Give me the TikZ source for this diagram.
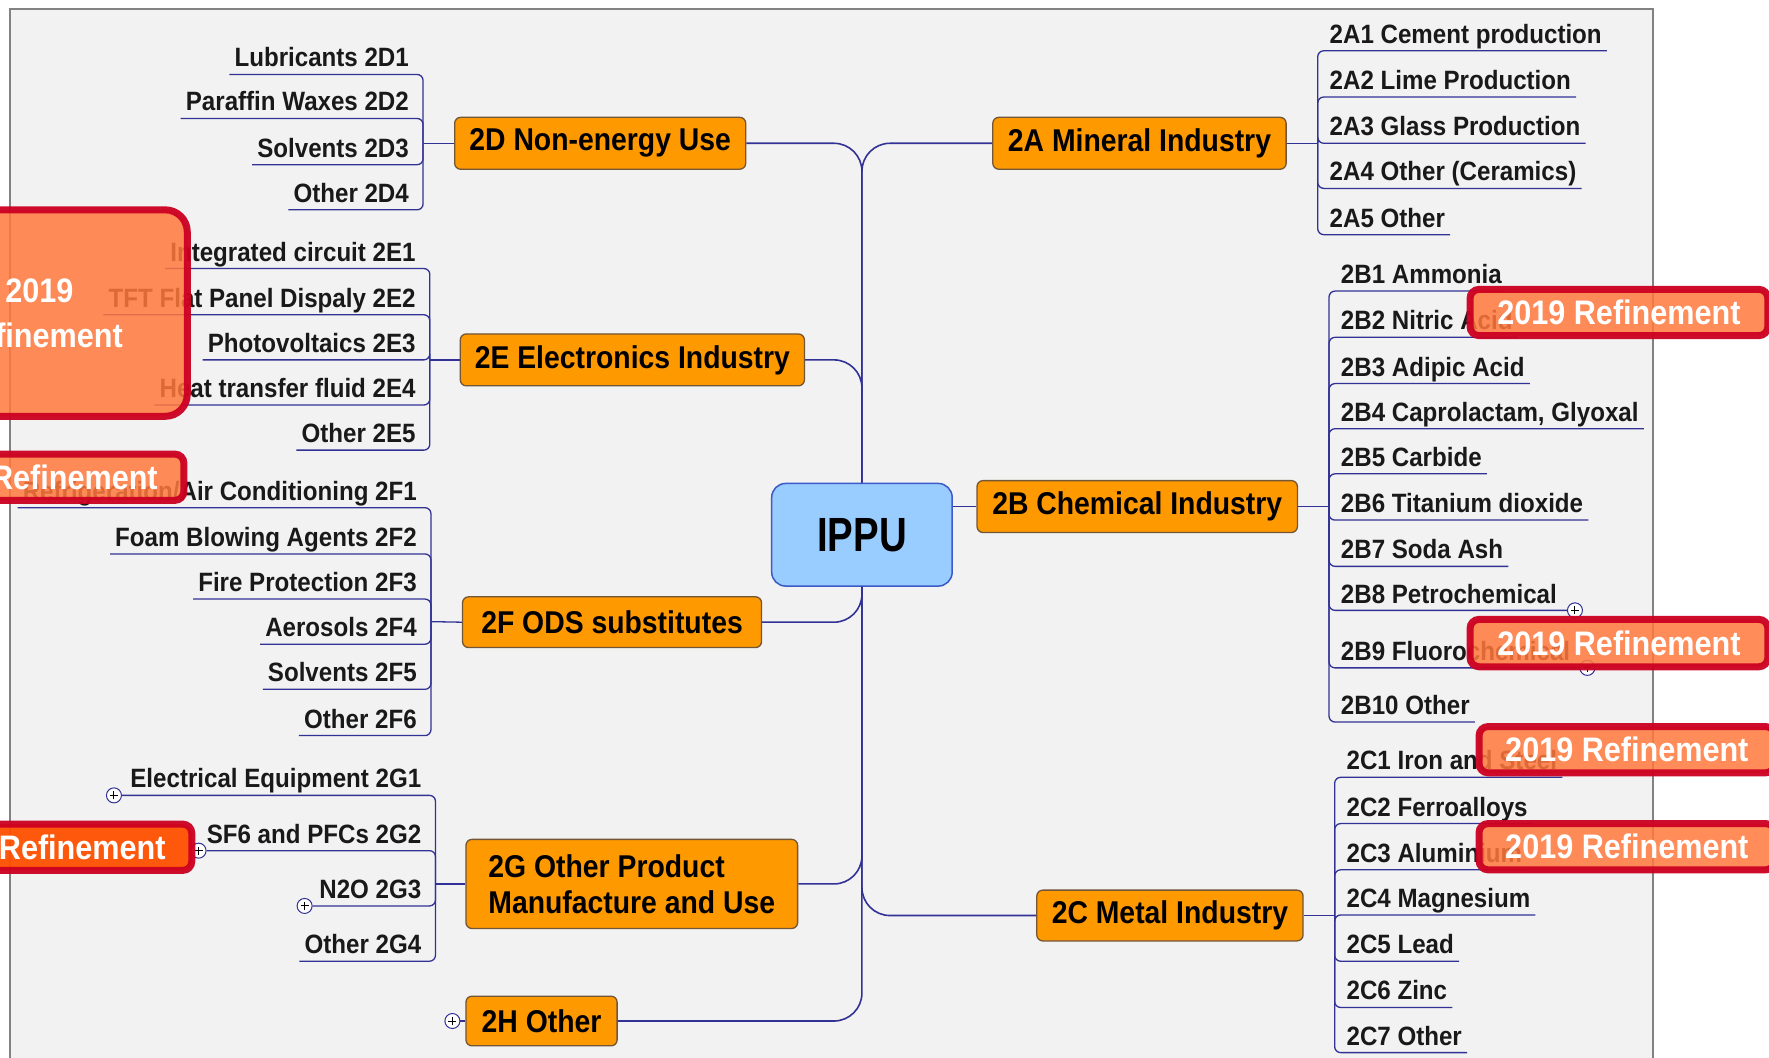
\documentclass[tikz,border=0pt]{standalone}
\usepackage{fontspec}
\newfontfamily\leaffont{Liberation Sans}[FakeStretch=0.91]
\newfontfamily\catfont{Liberation Sans}[FakeStretch=0.9]
\newfontfamily\ippufont{Liberation Sans}[FakeStretch=0.8]
\definecolor{linec}{RGB}{50,50,150}
\definecolor{catfill}{RGB}{255,153,0}
\definecolor{catborder}{RGB}{115,85,55}
\definecolor{ippufill}{RGB}{153,204,255}
\definecolor{ippuborder}{RGB}{60,90,200}
\definecolor{refred}{RGB}{204,0,34}
\definecolor{refor}{RGB}{255,120,60}
\definecolor{refortwo}{RGB}{255,80,0}
\definecolor{framefill}{RGB}{242,242,242}
\definecolor{framec}{RGB}{130,130,130}
\newcommand\catnode[6]{\node[cat, minimum width={(#4-#2)*1.128pt}, minimum height={(#5-#3)*1.128pt}] (#1) at ({(#2+#4)/2},{(#3+#5)/2}) {#6};}
\begin{document}
\begin{tikzpicture}[x=1.128pt,y=-1.128pt,
  cat/.style={draw=catborder, line width=1.3pt, fill=catfill, rounded corners=6pt, inner sep=0pt, text=black, font=\catfont\bfseries\fontsize{31.5}{36}\selectfont},
  ippu/.style={draw=ippuborder, line width=1.5pt, fill=ippufill, rounded corners=14pt, inner sep=0pt, text=black, font=\ippufont\bfseries\fontsize{48}{52}\selectfont},
  leafL/.style={anchor=south east, inner xsep=5pt, inner ysep=0pt, text height=19pt, text depth=7.3pt, text=black!90, font=\leaffont\bfseries\fontsize{26.5}{30}\selectfont},
  leafR/.style={leafL, anchor=south west},
  ul/.style={draw=linec, line width=1.3pt, rounded corners=6pt},
  conn/.style={draw=linec, line width=1.6pt, rounded corners=28pt},
  plus/.style={circle, draw=linec, line width=1pt, fill=white, minimum size=15pt, inner sep=0pt,
    path picture={\draw[black, line width=1pt] ([xshift=-4pt]path picture bounding box.center) -- ([xshift=4pt]path picture bounding box.center) ([yshift=-4pt]path picture bounding box.center) -- ([yshift=4pt]path picture bounding box.center);}},
  refine/.style={draw=refred, line width=7pt, fill=refor, fill opacity=0.85, draw opacity=0.95, text opacity=1, text=white, rounded corners=9pt, inner sep=0pt, align=center, font=\catfont\bfseries\fontsize{34}{45}\selectfont}
]
\useasboundingbox (0,0) rectangle (1568,937);
\clip (0,0) rectangle (1568,937);
\fill[white] (0,0) rectangle (1568,937);
\draw[draw=framec, line width=1.5pt, fill=framefill] (9,8) rectangle (1465,960);

% category nodes
\catnode{catD}{403}{104}{661}{150}{2D Non-energy Use}
\catnode{catA}{880}{104}{1140}{150}{2A Mineral Industry}
\catnode{catE}{408}{296}{713}{342}{2E Electronics Industry}
\catnode{catB}{866}{426}{1150}{472}{2B Chemical Industry}
\catnode{catF}{410}{529}{675}{574}{2F ODS substitutes}
\node[cat, align=left, minimum width={294*1.128pt}, minimum height={79*1.128pt}] (catG) at (560,783.5) {2G Other Product\\Manufacture and Use};
\catnode{catC}{919}{789}{1155}{834}{2C Metal Industry}
\catnode{catH}{413}{883}{547}{927}{2H Other}
\node[ippu, minimum width={160*1.128pt}, minimum height={91*1.128pt}] (ippu) at (764,474) {IPPU};

% trunk connectors
\draw[conn] (catD.east) -| (ippu.north);
\draw[conn] (catA.west) -| (ippu.north);
\draw[conn] (catE.east) -| (ippu.north);
\draw[conn] (catB.west) -- (catB.west -| ippu.east);
\draw[conn] (catF.east) -| (ippu.south);
\draw[conn] (catG.east) -| (ippu.south);
\draw[conn] (catH.east) -| (ippu.south);
\draw[conn] (catC.west) -| (ippu.south);

% bracket points
\coordinate (bD) at (375,127);
\coordinate (bE) at (381,319);
\coordinate (bF) at (382,551);
\coordinate (bG) at (386,783.5);
\coordinate (bA) at (1168,127);
\coordinate (bB) at (1178,449);
\coordinate (bC) at (1183,811.5);

% 2D leaves
\node[leafL] (d1) at (367,66) {Lubricants 2D1};
\node[leafL] (d2) at (367,105) {Paraffin Waxes 2D2};
\node[leafL] (d3) at (367,146) {Solvents 2D3};
\node[leafL] (d4) at (367,186) {Other 2D4};
\foreach \n in {d1,d2,d3,d4} \draw[ul] (\n.south west) -| (bD);
\draw[ul] (bD) -- (catD.west);

% 2E leaves
\node[leafL] (e1) at (373,238) {Integrated circuit 2E1};
\node[leafL] (e2) at (373,279) {TFT Flat Panel Dispaly 2E2};
\node[leafL] (e3) at (373,319) {Photovoltaics 2E3};
\node[leafL] (e4) at (373,359) {Heat transfer fluid 2E4};
\node[leafL] (e5) at (373,399) {Other 2E5};
\foreach \n in {e1,e2,e3,e4,e5} \draw[ul] (\n.south west) -| (bE);
\draw[ul] (bE) -- (catE.west);

% 2F leaves
\node[leafL] (f1) at (374,450) {Refrigeration/Air Conditioning 2F1};
\node[leafL] (f2) at (374,491) {Foam Blowing Agents 2F2};
\node[leafL] (f3) at (374,531) {Fire Protection 2F3};
\node[leafL] (f4) at (374,571) {Aerosols 2F4};
\node[leafL] (f5) at (374,611) {Solvents 2F5};
\node[leafL] (f6) at (374,652) {Other 2F6};
\foreach \n in {f1,f2,f3,f4,f5,f6} \draw[ul] (\n.south west) -| (bF);
\draw[ul] (bF) -- (catF.west);

% 2G leaves
\node[leafL] (g1) at (378,705) {Electrical Equipment 2G1};
\node[leafL] (g2) at (378,754) {SF6 and PFCs 2G2};
\node[leafL] (g3) at (378,803) {N2O 2G3};
\node[leafL] (g4) at (378,852) {Other 2G4};
\node[plus] (pg1) at (101,705) {};
\node[plus] (pg2) at (176,754) {};
\node[plus] (pg3) at (270,803) {};
\draw[ul] (pg1.east) -| (bG);
\draw[ul] (pg2.east) -| (bG);
\draw[ul] (pg3.east) -| (bG);
\draw[ul] (g4.south west) -| (bG);
\draw[ul] (bG) -- (catG.west);

% 2H
\node[plus] (ph) at (401,905) {};
\draw[ul] (ph.east) -- (catH.west);

% 2A leaves
\node[leafR] (a1) at (1174,45) {2A1 Cement production};
\node[leafR] (a2) at (1174,86) {2A2 Lime Production};
\node[leafR] (a3) at (1174,127) {2A3 Glass Production};
\node[leafR] (a4) at (1174,167) {2A4 Other (Ceramics)};
\node[leafR] (a5) at (1174,208) {2A5 Other};
\foreach \n in {a1,a2,a3,a4,a5} \draw[ul] (\n.south east) -| (bA);
\draw[ul] (catA.east) -- (bA);

% 2B leaves
\node[leafR] (b1) at (1184,258) {2B1 Ammonia};
\node[leafR] (b2) at (1184,299) {2B2 Nitric Acid};
\node[leafR] (b3) at (1184,340) {2B3 Adipic Acid};
\node[leafR] (b4) at (1184,380) {2B4 Caprolactam, Glyoxal};
\node[leafR] (b5) at (1184,420) {2B5 Carbide};
\node[leafR] (b6) at (1184,461) {2B6 Titanium dioxide};
\node[leafR] (b7) at (1184,502) {2B7 Soda Ash};
\node[leafR] (b8) at (1184,542) {2B8 Petrochemical};
\node[leafR] (b9) at (1184,592) {2B9 Fluorochemical};
\node[leafR] (b10) at (1184,640) {2B10 Other};
\node[plus] (pb8) at (1396,541) {};
\node[plus] (pb9) at (1407,592) {};
\foreach \n in {b1,b2,b3,b4,b5,b6,b7,b10} \draw[ul] (\n.south east) -| (bB);
\draw[ul] (pb8.west) -| (bB);
\draw[ul] (pb9.west) -| (bB);
\draw[ul] (catB.east) -- (bB);

% 2C leaves
\node[leafR] (c1) at (1189,689) {2C1 Iron and Steel};
\node[leafR] (c2) at (1189,730) {2C2 Ferroalloys};
\node[leafR] (c3) at (1189,771) {2C3 Aluminium};
\node[leafR] (c4) at (1189,811) {2C4 Magnesium};
\node[leafR] (c5) at (1189,852) {2C5 Lead};
\node[leafR] (c6) at (1189,893) {2C6 Zinc};
\node[leafR] (c7) at (1189,933) {2C7 Other};
\foreach \n in {c1,c2,c3,c4,c5,c6,c7} \draw[ul] (\n.south east) -| (bC);
\draw[ul] (catC.east) -- (bC);

% 2019 Refinement overlays
\node[refine, rounded corners=22pt, minimum width={262*1.128pt}, minimum height={183*1.128pt}] (r1) at (35,277.5) {2019\\Refinement};
\node[refine, minimum width={262*1.128pt}, minimum height={41*1.128pt}] (r2) at (32,423) {2019 Refinement};
\node[refine, fill=refortwo, fill opacity=0.95, minimum width={262*1.128pt}, minimum height={41*1.128pt}] (r3) at (39,751) {2019 Refinement};
\node[refine, minimum width={264*1.128pt}, minimum height={41*1.128pt}] (r4) at (1435,277) {2019 Refinement};
\node[refine, minimum width={264*1.128pt}, minimum height={42*1.128pt}] (r5) at (1435,570) {2019 Refinement};
\node[refine, minimum width={262*1.128pt}, minimum height={41*1.128pt}] (r6) at (1442,664.5) {2019 Refinement};
\node[refine, minimum width={262*1.128pt}, minimum height={41*1.128pt}] (r7) at (1442,750.5) {2019 Refinement};
\end{tikzpicture}
\end{document}
